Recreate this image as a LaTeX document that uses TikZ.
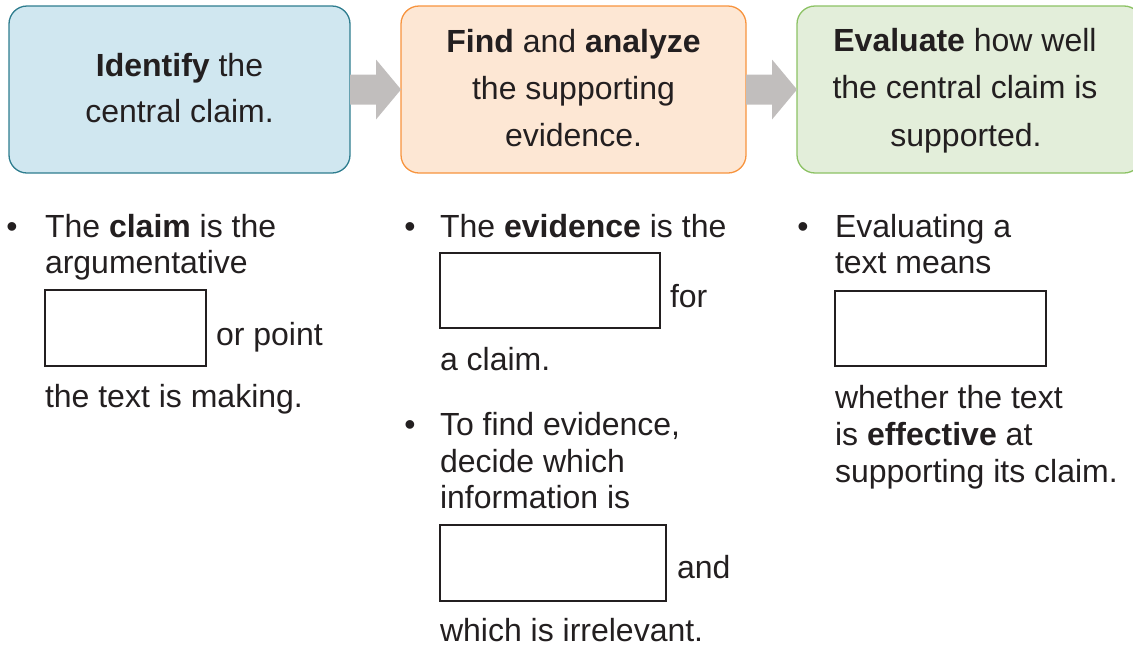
\documentclass[tikz,border=0pt]{standalone}
\usepackage{fontspec}
\setmainfont{Liberation Sans}
\usetikzlibrary{calc}
\definecolor{ink}{HTML}{231F20}
\definecolor{bonefill}{RGB}{208,231,240}
\definecolor{boneline}{RGB}{46,125,143}
\definecolor{btwofill}{RGB}{253,231,212}
\definecolor{btwoline}{RGB}{247,148,62}
\definecolor{bthreefill}{RGB}{227,238,218}
\definecolor{bthreeline}{RGB}{140,194,100}
\definecolor{arrowgray}{RGB}{193,190,189}
\begin{document}
\begin{tikzpicture}[x=1pt,y=-1pt,
  every node/.style={inner sep=0pt, outer sep=0pt, text=ink, font=\fontsize{32}{37}\selectfont},
  stepbox/.style={rectangle, rounded corners=18pt, line width=1.3pt, minimum height=167pt},
  ln/.style={anchor=base},
  bl/.style={anchor=base west},
  bul/.style={anchor=base},
  blank/.style={draw=ink, line width=2pt, rectangle, anchor=north west},
  flowarrow/.style={fill=arrowgray}]
\useasboundingbox (0,0) rectangle (1133,646);
\clip (0,0) rectangle (1133,646);

% top step boxes
\node[stepbox, fill=bonefill, draw=boneline, minimum width=341pt] (b1) at (179.5,89.5) {};
\node[stepbox, fill=btwofill, draw=btwoline, minimum width=345pt] (b2) at (573.5,89.5) {};
\node[stepbox, fill=bthreefill, draw=bthreeline, minimum width=345pt] (b3) at (969.5,89.5) {};

% arrows
\fill[flowarrow] ($(b1.east)+(0,-15)$) -- ($(b1.east)+(26,-15)$) -- ($(b1.east)+(26,-30)$) -- (b2.west)
  -- ($(b1.east)+(26,30)$) -- ($(b1.east)+(26,15)$) -- ($(b1.east)+(0,15)$) -- cycle;
\fill[flowarrow] ($(b2.east)+(0,-15)$) -- ($(b2.east)+(26,-15)$) -- ($(b2.east)+(26,-30)$) -- (b3.west)
  -- ($(b2.east)+(26,30)$) -- ($(b2.east)+(26,15)$) -- ($(b2.east)+(0,15)$) -- cycle;

% box texts
\node[ln] (t1a) at (179.5,76) {\textbf{Identify} the};
\node[ln] (t1b) at (179.5,122.5) {central claim.};
\node[ln] (t2a) at (573.5,52) {\textbf{Find} and \textbf{analyze}};
\node[ln] (t2b) at (573.5,99) {the supporting};
\node[ln] (t2c) at (573.5,146.5) {evidence.};
\node[ln] (t3a) at (965,51) {\textbf{Evaluate} how well};
\node[ln] (t3b) at (965,98.5) {the central claim is};
\node[ln] (t3c) at (966,146.5) {supported.};

% column 1
\node[bul] (u1) at (12,237) {\textbullet};
\node[bl] (c1a) at (45,237) {The \textbf{claim} is the};
\node[bl] (c1b) at (45,273) {argumentative};
\node[blank, minimum width=161pt, minimum height=76pt] (k1) at (45,290) {};
\node[bl] (c1c) at (216,345) {or point};
\node[bl] (c1d) at (45,407) {the text is making.};

% column 2
\node[bul] (u2) at (410,237) {\textbullet};
\node[bl] (c2a) at (440,237) {The \textbf{evidence} is the};
\node[blank, minimum width=220pt, minimum height=75pt] (k2) at (440,253) {};
\node[bl] (c2b) at (670,307) {for};
\node[bl] (c2c) at (440,370) {a claim.};
\node[bul] (u3) at (410,435) {\textbullet};
\node[bl] (c2d) at (440,435) {To find evidence,};
\node[bl] (c2e) at (440,472) {decide which};
\node[bl] (c2f) at (440,508.5) {information is};
\node[blank, minimum width=226pt, minimum height=76pt] (k3) at (440,525) {};
\node[bl] (c2g) at (677,578) {and};
\node[bl] (c2h) at (440,641.5) {which is irrelevant.};

% column 3
\node[bul] (u4) at (803,237) {\textbullet};
\node[bl] (c3a) at (835,237) {Evaluating a};
\node[bl] (c3b) at (835,273) {text means};
\node[blank, minimum width=211pt, minimum height=75pt] (k4) at (835,291) {};
\node[bl] (c3c) at (835,408) {whether the text};
\node[bl] (c3d) at (835,445) {is \textbf{effective} at};
\node[bl] (c3e) at (835,482) {supporting its claim.};
\end{tikzpicture}
\end{document}
